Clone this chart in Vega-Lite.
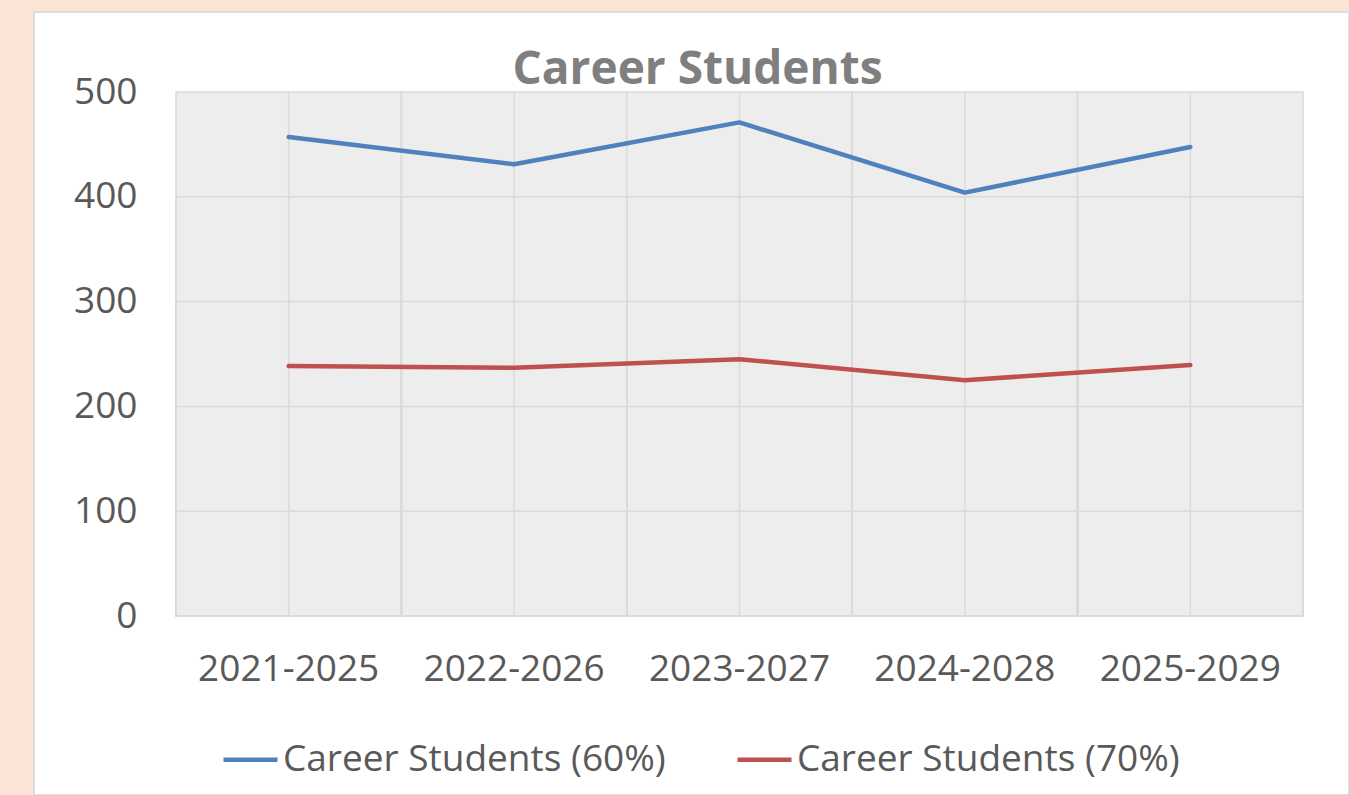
{
  "$schema": "https://vega.github.io/schema/vega-lite/v6.json",
  "width": 1315,
  "height": 783,
  "autosize": {"type": "none"},
  "padding": {"left": 34, "top": 12, "right": 0, "bottom": 0},
  "background": "#fce4d6",
  "config": {
    "font": "Open Sans",
    "view": {"fill": "#ffffff", "stroke": "#d6d6d6", "strokeWidth": 1.5}
  },
  "title": {
    "text": "Career Students",
    "fontSize": 46,
    "fontWeight": "bold",
    "color": "#7f7f7f",
    "font": "Open Sans",
    "anchor": "middle",
    "frame": "group",
    "offset": -82,
    "dx": 6
  },
  "datasets": {
    "periods": [
      {"period": "2021-2025"},
      {"period": "2022-2026"},
      {"period": "2023-2027"},
      {"period": "2024-2028"},
      {"period": "2025-2029"}
    ],
    "students": [
      {"period": "2021-2025", "series": "Career Students (60%)", "students": 457},
      {"period": "2022-2026", "series": "Career Students (60%)", "students": 431},
      {"period": "2023-2027", "series": "Career Students (60%)", "students": 471},
      {"period": "2024-2028", "series": "Career Students (60%)", "students": 404},
      {"period": "2025-2029", "series": "Career Students (60%)", "students": 447.5},
      {"period": "2021-2025", "series": "Career Students (70%)", "students": 238.5},
      {"period": "2022-2026", "series": "Career Students (70%)", "students": 236.8},
      {"period": "2023-2027", "series": "Career Students (70%)", "students": 245},
      {"period": "2024-2028", "series": "Career Students (70%)", "students": 225},
      {"period": "2025-2029", "series": "Career Students (70%)", "students": 239.5}
    ]
  },
  "layer": [
    {
      "data": {"name": "periods"},
      "mark": {"type": "rect", "fill": "#ededed", "stroke": "#dadada", "strokeWidth": 1.5},
      "encoding": {
        "x": {
          "field": "period",
          "type": "nominal",
          "sort": null,
          "title": null,
          "scale": {"type": "band", "paddingInner": 0, "paddingOuter": 0.41705, "align": 0.7553},
          "axis": {
            "orient": "bottom",
            "offset": -179,
            "labelPadding": 35,
            "labelLimit": 0,
            "domain": false,
            "ticks": false,
            "grid": false,
            "labelAngle": 0,
            "labelFontSize": 37,
            "labelColor": "#595959",
            "labelFont": "Open Sans"
          }
        },
        "y": {
          "datum": 0,
          "type": "quantitative",
          "title": null,
          "scale": {"domain": [-170.8, 576.34], "nice": false, "zero": false},
          "axis": {
            "orient": "left",
            "offset": -142,
            "values": [0, 100, 200, 300, 400, 500],
            "labelPadding": 39,
            "labelLimit": 0,
            "domain": false,
            "ticks": false,
            "grid": false,
            "labelFontSize": 37,
            "labelColor": "#595959",
            "labelFont": "Open Sans"
          }
        },
        "y2": {"datum": 500}
      }
    },
    {
      "data": {"name": "periods"},
      "mark": {"type": "rect", "fillOpacity": 0, "stroke": "#dadada", "strokeWidth": 1.5},
      "encoding": {
        "x": {"field": "period", "type": "nominal", "sort": null},
        "y": {"datum": 0, "type": "quantitative"},
        "y2": {"datum": 100}
      }
    },
    {
      "data": {"name": "periods"},
      "mark": {"type": "rect", "fillOpacity": 0, "stroke": "#dadada", "strokeWidth": 1.5},
      "encoding": {
        "x": {"field": "period", "type": "nominal", "sort": null},
        "y": {"datum": 0, "type": "quantitative"},
        "y2": {"datum": 200}
      }
    },
    {
      "data": {"name": "periods"},
      "mark": {"type": "rect", "fillOpacity": 0, "stroke": "#dadada", "strokeWidth": 1.5},
      "encoding": {
        "x": {"field": "period", "type": "nominal", "sort": null},
        "y": {"datum": 0, "type": "quantitative"},
        "y2": {"datum": 300}
      }
    },
    {
      "data": {"name": "periods"},
      "mark": {"type": "rect", "fillOpacity": 0, "stroke": "#dadada", "strokeWidth": 1.5},
      "encoding": {
        "x": {"field": "period", "type": "nominal", "sort": null},
        "y": {"datum": 0, "type": "quantitative"},
        "y2": {"datum": 400}
      }
    },
    {
      "data": {"name": "periods"},
      "mark": {"type": "rule", "stroke": "#dadada", "strokeWidth": 1.5},
      "encoding": {
        "x": {"field": "period", "type": "nominal", "sort": null, "bandPosition": 0.5},
        "y": {"datum": 0, "type": "quantitative"},
        "y2": {"datum": 500}
      }
    },
    {
      "data": {"name": "students"},
      "mark": {"type": "line", "strokeWidth": 4.5, "strokeCap": "round", "strokeJoin": "round"},
      "encoding": {
        "x": {"field": "period", "type": "nominal", "sort": null, "bandPosition": 0.5},
        "y": {"field": "students", "type": "quantitative", "title": null},
        "color": {
          "field": "series",
          "type": "nominal",
          "scale": {
            "domain": ["Career Students (60%)", "Career Students (70%)"],
            "range": ["#4f81bd", "#c0504d"]
          },
          "legend": {
            "orient": "none",
            "legendX": 187,
            "legendY": 718,
            "direction": "horizontal",
            "title": null,
            "symbolType": "stroke",
            "symbolSize": 2916,
            "symbolStrokeWidth": 4.5,
            "labelFontSize": 37,
            "labelLimit": 0,
            "labelColor": "#595959",
            "labelFont": "Open Sans",
            "labelOffset": 3,
            "columnPadding": 62,
            "padding": 0
          }
        }
      }
    }
  ]
}
